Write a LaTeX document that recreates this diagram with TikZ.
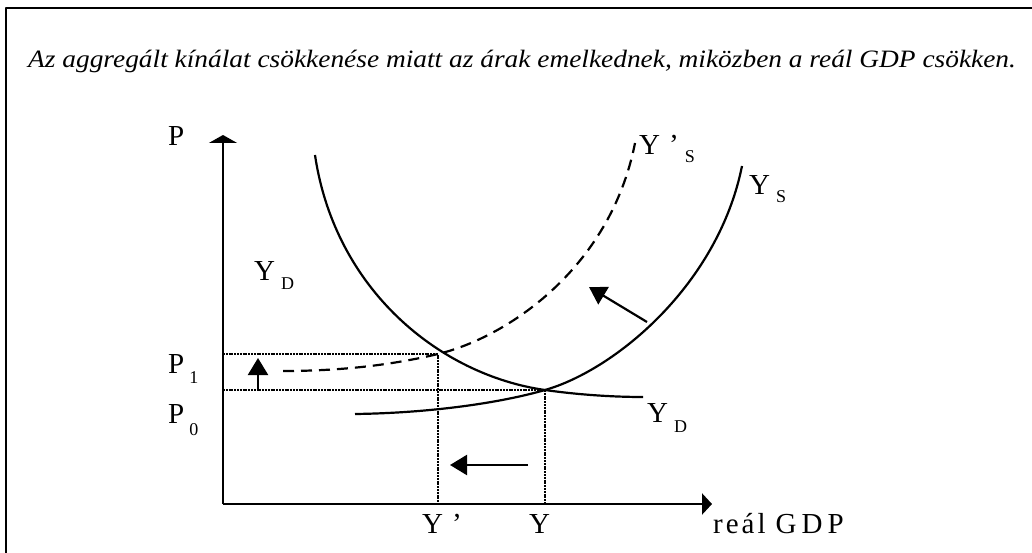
\documentclass[tikz,border=0pt]{standalone}
\usepackage{fontspec}
\setmainfont{Liberation Serif}
\usetikzlibrary{arrows.meta}
\newcommand{\lowsub}[2][9pt]{\raisebox{-#1}{\fontsize{18}{18}\selectfont #2}}

\begin{document}
\begin{tikzpicture}[x=1pt,y=-1pt,line join=round,
  axisline/.style={line width=2.8pt},
  curve/.style={line width=2.2pt},
  guide/.style={line width=1.9pt,dash pattern=on 2pt off 0.8pt},
  movearrow/.style={line width=2.2pt,-{Triangle[width=20pt,length=17pt]}},
  lbl/.style={anchor=base west,inner sep=0pt,font=\fontsize{29}{31}\selectfont}]
  \useasboundingbox (0,0) rectangle (1032,553);
  \draw[line width=2.2pt] (6,553) -- (6,8) -- (1032,8);
  \node[anchor=base west,inner sep=0pt,font=\fontsize{25}{28}\selectfont\itshape] (title) at (28,68)
    {\scalebox{1.095}[1]{Az aggregált kínálat csökkenése miatt az árak emelkednek, miközben a reál GDP csökken.}};
  \coordinate (O) at (223,504);
  \coordinate (Ptop) at (223,135);
  \coordinate (Xend) at (712,504);
  \coordinate (E0) at (545,390);
  \coordinate (E1) at (438,354);
  \draw[axisline,-{Triangle[width=28pt,length=8pt]}] (O) -- (Ptop);
  \draw[axisline,-{Triangle[width=21pt,length=10pt]}] (O) -- (Xend);
  \draw[guide] (O |- E1) -- (E1) -- (E1 |- O);
  \draw[guide] (O |- E0) -- (E0) -- (E0 |- O);
  \draw[curve] (315,155) .. controls (335,290) and (440,375) .. (E0)
    .. controls (580,395) and (615,397) .. (643,397);
  \draw[curve] (355,414) .. controls (430,413) and (500,403) .. (E0)
    .. controls (615,370) and (718,285) .. (742,166);
  \draw[curve,dash pattern=on 11pt off 7pt] (283,371) .. controls (350,371) and (400,363) .. (E1)
    .. controls (505,338) and (610,270) .. (635,143);
  \coordinate (up0) at (258,389);
  \coordinate (up1) at (258,358);
  \coordinate (lf0) at (528,465);
  \coordinate (lf1) at (450,465);
  \coordinate (dg0) at (647,322);
  \coordinate (dg1) at (589,287);
  \draw[movearrow] (up0) -- (up1);
  \draw[movearrow] (lf0) -- (lf1);
  \draw[movearrow] (dg0) -- (dg1);
  \node[lbl] (lP) at (168,146) {P};
  \node[lbl] (lYDa) at (254,280) {Y\hspace{6pt}\lowsub{D}};
  \node[lbl] (lP1) at (168,373) {P\hspace{5pt}\lowsub[10pt]{1}};
  \node[lbl] (lP0) at (168,423) {P\hspace{5pt}\lowsub[12pt]{0}};
  \node[lbl] (lYp) at (422,533) {Y\hspace{9pt}’};
  \node[lbl] (lY) at (529,533) {Y};
  \node[lbl] (lGDP) at (713,533) {r\kern3pt e\kern3pt á\kern3pt l\hspace{10pt}G\kern5pt D\kern5pt P};
  \node[lbl] (lYDb) at (647,422) {Y\hspace{6pt}\lowsub[10pt]{D}};
  \node[lbl] (lYSp) at (639,155) {Y\hspace{9pt}’\hspace{6pt}\lowsub[8pt]{S}};
  \node[lbl] (lYS) at (749,195) {Y\hspace{6pt}\lowsub[8pt]{S}};
\end{tikzpicture}
\end{document}
